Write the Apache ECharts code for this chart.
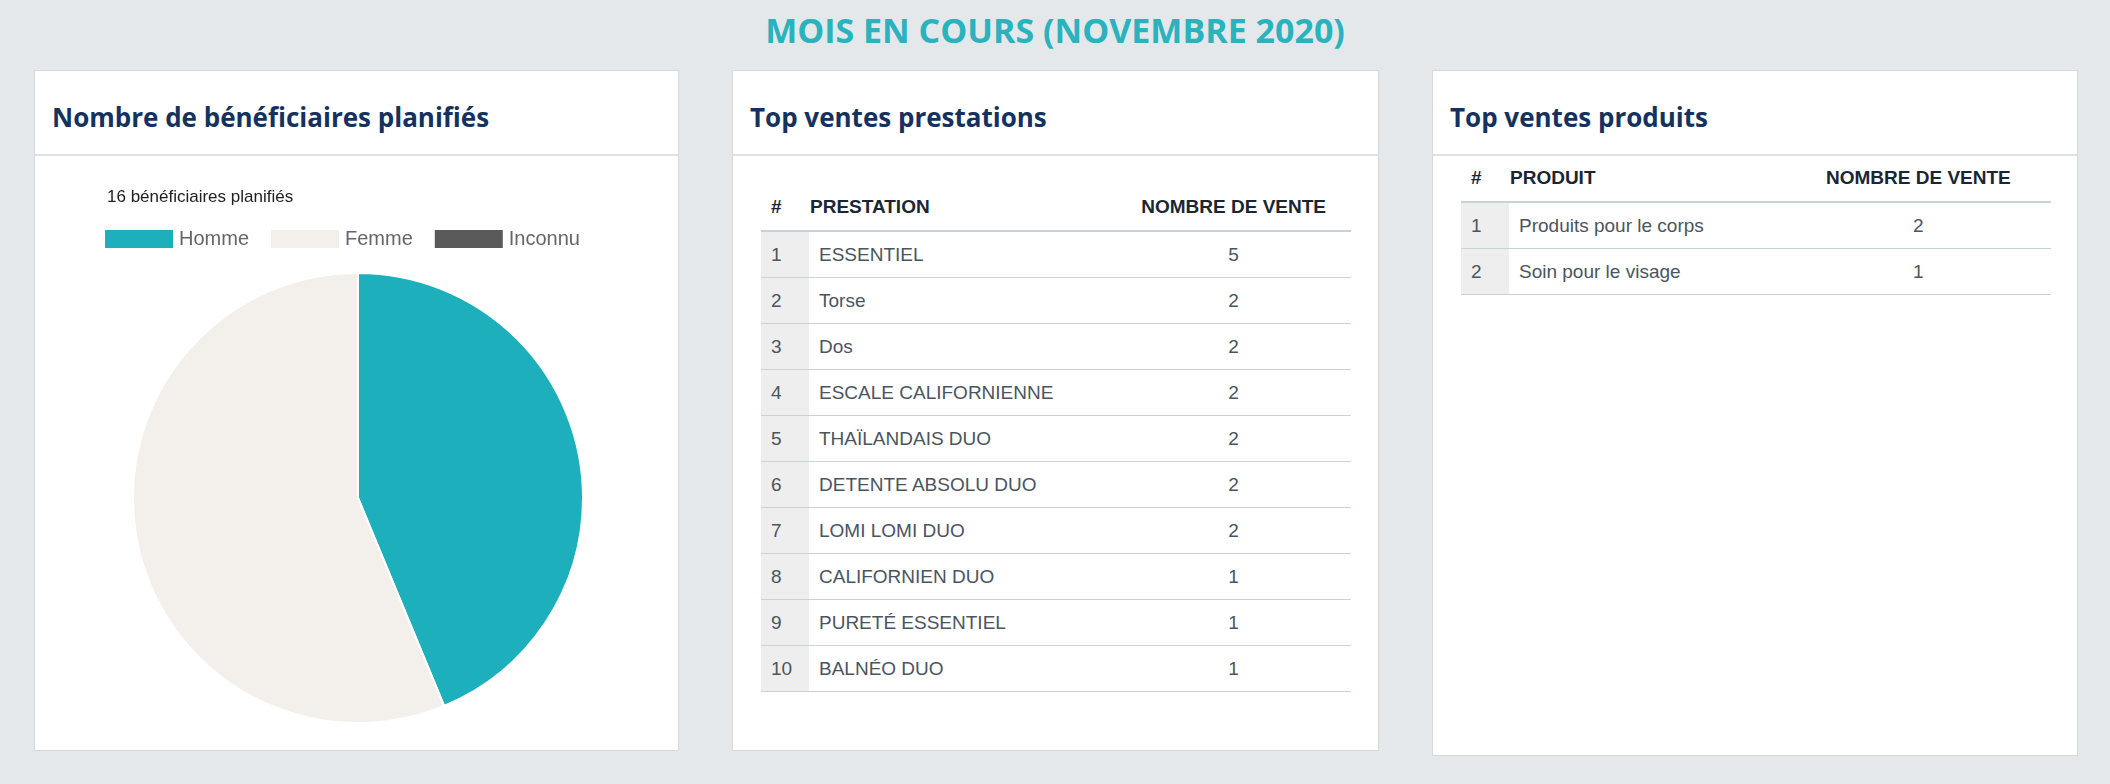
<!DOCTYPE html>
<html><head><meta charset="utf-8">
<script src="https://cdn.jsdelivr.net/npm/echarts@6/dist/echarts.min.js"></script>
<style>
body{margin:0;width:2110px;height:784px;background:#e4e8eb;font-family:"Liberation Sans",Arial,sans-serif;position:relative;overflow:hidden}
h1{position:absolute;top:7px;left:0;width:2110px;text-align:center;margin:0;font-family:"Open Sans";font-weight:700;font-size:34px;color:#2ab3bd}
.card{position:absolute;top:70px;background:#fff;border:1px solid #d6d9dc;box-sizing:border-box}
.card .hd{height:83px;border-bottom:2px solid #dfe2e5;font-family:"Open Sans";font-weight:700;font-size:26px;color:#15325f;padding-left:17px;line-height:92px}
table{position:absolute;border-collapse:collapse;font-size:19px;color:#4a5560}
th{font-weight:700;color:#1a2633;text-align:left;height:45px;border-bottom:2px solid #c6d4d8}
td{height:45px;padding:0;border-bottom:1px solid #c6d4d8}
td.n{background:#eeeeee;padding-left:10px;width:38px}
.c{text-align:center}
</style></head><body>
<h1>MOIS EN COURS (NOVEMBRE 2020)</h1>
<div class="card" style="left:34px;width:645px;height:681px"><div class="hd">Nombre de bénéficiaires planifiés</div>
<div id="pie" style="position:absolute;left:0;top:85px;width:643px;height:594px"></div></div>
<div class="card" style="left:732px;width:647px;height:681px"><div class="hd">Top ventes prestations</div>
<table id="t1" style="left:28px;top:112px;width:590px"></table></div>
<div class="card" style="left:1432px;width:646px;height:686px"><div class="hd">Top ventes produits</div>
<table id="t2" style="left:28px;top:83px;width:590px"></table></div>
<script>
const genres = ['Homme', 'Femme', 'Inconnu'];
const beneficiaires = [7, 9, 0];
const couleurs = ['#1db0bc', '#f3f0ec', '#5a5a5a'];

const prestations = ['ESSENTIEL', 'Torse', 'Dos', 'ESCALE CALIFORNIENNE', 'THAÏLANDAIS DUO', 'DETENTE ABSOLU DUO', 'LOMI LOMI DUO', 'CALIFORNIEN DUO', 'PURETÉ ESSENTIEL', 'BALNÉO DUO'];
const ventesPrestations = [5, 2, 2, 2, 2, 2, 2, 1, 1, 1];
const produits = ['Produits pour le corps', 'Soin pour le visage'];
const ventesProduits = [2, 1];

function fillTable(id, col, names, values) {
  let html = `<tr><th style="padding-left:10px">#</th><th>${col}</th><th class="c">NOMBRE DE VENTE</th></tr>`;
  names.forEach((n, i) => {
    html += `<tr><td class="n">${i + 1}</td><td style="padding-left:10px">${n}</td><td class="c">${values[i]}</td></tr>`;
  });
  document.getElementById(id).innerHTML = html;
}
fillTable('t1', 'PRESTATION', prestations, ventesPrestations);
fillTable('t2', 'PRODUIT', produits, ventesProduits);

const total = beneficiaires.reduce((a, b) => a + b, 0);
const pie = echarts.init(document.getElementById('pie'));
pie.setOption({
  animation: false,
  title: {
    text: total + ' bénéficiaires planifiés', left: 67, top: 28,
    textStyle: { fontSize: 17, fontWeight: 'normal', color: '#222', fontFamily: 'Liberation Sans' }
  },
  legend: {
    data: genres, left: 63, top: 67, itemWidth: 70, itemHeight: 20, itemGap: 20, icon: 'rect',
    textStyle: { fontSize: 20, color: '#666', fontFamily: 'Liberation Sans' }
  },
  series: [{
    type: 'pie', center: [323, 342], radius: 225, startAngle: 90, clockwise: true,
    label: { show: false }, labelLine: { show: false },
    itemStyle: { borderColor: '#fff', borderWidth: 2 },
    data: genres.map((g, i) => ({ name: g, value: beneficiaires[i], itemStyle: { color: couleurs[i] } }))
  }]
});
</script>
</body></html>
